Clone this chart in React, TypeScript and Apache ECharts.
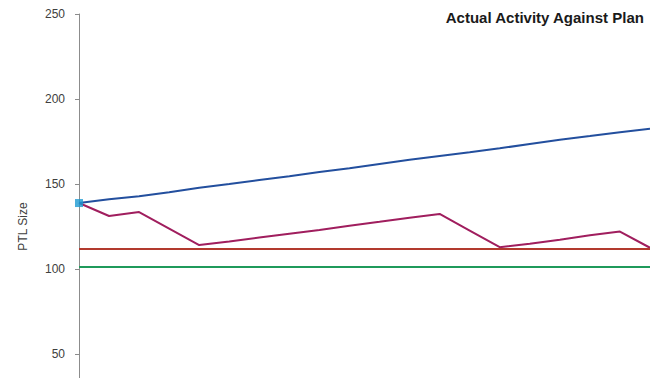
import React, { useEffect, useRef } from "react";
import * as echarts from "echarts";

// Weekly periods along the horizontal axis (labels are not shown)
const periods = [
  "W1", "W2", "W3", "W4", "W5", "W6", "W7", "W8", "W9", "W10",
  "W11", "W12", "W13", "W14", "W15", "W16", "W17", "W18", "W19", "W20",
];

// PTL size if nothing changes (upper trend)
const projectedPTL = [
  138.8, 141, 142.8, 145.2, 147.8, 150, 152.3, 154.5, 157, 159.3,
  161.8, 164.2, 166.5, 168.7, 171, 173.5, 176, 178.2, 180.5, 182.5,
];

// PTL size with planned activity applied
const actualPTL = [
  138.8, 131.2, 133.5, 123.8, 114.1, 116.2, 118.5, 120.8, 123, 125.5,
  127.8, 130.2, 132.4, 122.6, 112.8, 114.8, 117.2, 119.8, 122, 112.5,
];

// Flat reference levels
const planLevel = 112;
const targetLevel = 101.5;

const yTicks = { min: 0, max: 250, interval: 50 };

export default function App() {
  const ref = useRef<HTMLDivElement>(null);

  useEffect(() => {
    if (!ref.current) return;
    const chart = echarts.init(ref.current, null, { renderer: "svg" });
    const font = "'Liberation Sans', Arial, sans-serif";
    chart.setOption({
      animation: false,
      backgroundColor: "#ffffff",
      textStyle: { fontFamily: font },
      title: {
        text: "Actual Activity Against Plan",
        right: 0,
        top: 5,
        textStyle: {
          fontFamily: font,
          fontSize: 15,
          fontWeight: "bold",
          color: "#1a1a1a",
        },
      },
      grid: { left: 79, right: -1, top: 14, bottom: 0, containLabel: false },
      xAxis: {
        type: "category",
        data: periods,
        boundaryGap: false,
        axisLine: { show: false },
        axisTick: { show: false },
        axisLabel: { show: false },
        splitLine: { show: false },
      },
      yAxis: {
        type: "value",
        min: yTicks.min,
        max: yTicks.max,
        interval: yTicks.interval,
        name: "PTL Size",
        nameLocation: "middle",
        nameGap: 50,
        nameTextStyle: { fontFamily: font, fontSize: 12, color: "#404040" },
        axisLine: { show: true, lineStyle: { color: "#8c8c8c", width: 1 } },
        axisTick: { show: true, length: 4, lineStyle: { color: "#8c8c8c" } },
        axisLabel: {
          margin: 14,
          fontFamily: font,
          fontSize: 12,
          color: "#404040",
          formatter: (v: number) => (v === 0 ? "" : String(v)),
        },
        splitLine: { show: false },
      },
      series: [
        {
          name: "Plan",
          type: "line",
          data: [],
          markLine: {
            silent: true,
            symbol: "none",
            label: { show: false },
            lineStyle: { color: "#b23a2e", width: 2, type: "solid" },
            data: [{ yAxis: planLevel }],
          },
        },
        {
          name: "Target",
          type: "line",
          data: [],
          markLine: {
            silent: true,
            symbol: "none",
            label: { show: false },
            lineStyle: { color: "#1f9a5b", width: 2, type: "solid" },
            data: [{ yAxis: targetLevel }],
          },
        },
        {
          name: "Actual",
          type: "line",
          data: actualPTL,
          symbol: "none",
          lineStyle: { color: "#a01e5e", width: 2 },
          z: 3,
        },
        {
          name: "Projected",
          type: "line",
          data: projectedPTL,
          symbol: "none",
          lineStyle: { color: "#234f9e", width: 2 },
          z: 4,
        },
        {
          name: "Start",
          type: "scatter",
          data: [[0, projectedPTL[0]]],
          symbol: "rect",
          symbolSize: 8,
          itemStyle: { color: "#1b9ad2" },
          z: 5,
        },
      ],
    });
    return () => chart.dispose();
  }, []);

  // The chart runs past the visible frame at the bottom; the outer box clips it.
  return (
    <div
      style={{
        width: 650,
        height: 378,
        position: "absolute",
        left: 0,
        top: 0,
        overflow: "hidden",
        background: "#ffffff",
      }}
    >
      <div ref={ref} style={{ width: 650, height: 439 }} />
    </div>
  );
}
